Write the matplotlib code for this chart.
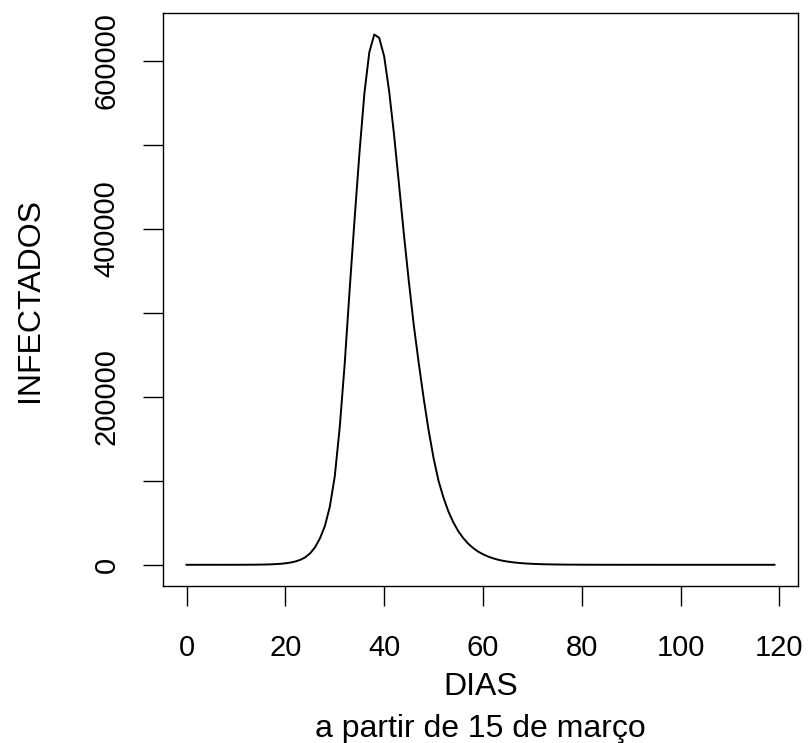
import matplotlib
matplotlib.use("Agg")
import matplotlib.pyplot as plt

plt.rcParams['font.family'] = ['Liberation Sans', 'DejaVu Sans']

dias = list(range(0, 120))
infectados = [
    1, 1, 1.5, 2, 3, 4, 6, 9, 14, 21,
    31, 46, 69, 104, 155, 233, 350, 520, 780, 1170,
    1750, 2600, 3900, 5800, 8800, 13500, 20700, 31400, 46000, 69000,
    105000, 163000, 238000, 326000, 410000, 490000, 561000, 610000, 631000, 627000,
    605000, 564000, 512000, 453000, 393000, 337000, 285000, 240000, 198000, 160000,
    127000, 100000, 80000, 63500, 50500, 40000, 31800, 25200, 20000, 15800,
    12500, 9900, 7800, 6100, 4800, 3800, 3000, 2350, 1850, 1450,
    1150, 900, 710, 560, 440, 345, 270, 212, 166, 130,
    102, 80, 63, 49, 38, 30, 23.5, 18.5, 14.5, 11.4,
    9, 7, 5.5, 4.3, 3.4, 2.7, 2.1, 1.7, 1.3, 1.0,
    0.8, 0.6, 0.5, 0.4, 0.3, 0.25, 0.2, 0.15, 0.12, 0.1,
    0.08, 0.06, 0.05, 0.04, 0.03, 0.02, 0.02, 0.01, 0.01, 0.01,
]
xticks = [0, 20, 40, 60, 80, 100, 120]
yticks = [0, 100000, 200000, 300000, 400000, 500000, 600000]
ytick_labels = ['0', '', '200000', '', '400000', '', '600000']
xlabel_1 = "DIAS"
xlabel_2 = "a partir de 15 de março"
ylabel = "INFECTADOS"

W, H = 809, 743
fig = plt.figure(figsize=(W / 100, H / 100), dpi=100)
ax = fig.add_axes([163 / W, 1 - 586 / H, (798 - 163) / W, (586 - 13.3) / H])

ax.plot(dias, infectados, color='black', linewidth=1.4)
ax.margins(x=0.04, y=0.04)

ax.set_xticks(xticks)
ax.set_xticklabels([str(t) for t in xticks])
ax.set_yticks(yticks)
ax.set_yticklabels(ytick_labels, rotation=90, va='center')

ax.tick_params(axis='both', direction='out', length=14.4, width=1.0,
               labelsize=21, color='black', labelcolor='black')
ax.tick_params(axis='x', pad=20)
ax.tick_params(axis='y', pad=16)
for s in ax.spines.values():
    s.set_linewidth(1.0)
    s.set_color('black')

fig.text(480.5 / W, 1 - 695 / H, xlabel_1, ha='center', va='baseline', fontsize=23)
fig.text(480.5 / W, 1 - 737 / H, xlabel_2, ha='center', va='baseline', fontsize=23)
fig.text(30.5 / W, 1 - 300 / H, ylabel, ha='center', va='center', rotation=90, fontsize=23)

fig.savefig("out.png", dpi=100)
